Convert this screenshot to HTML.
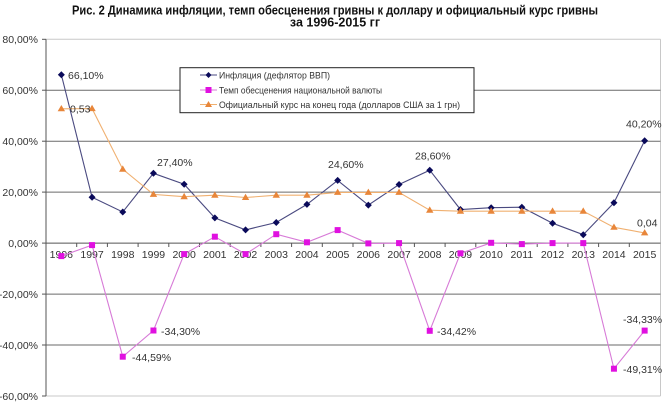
<!DOCTYPE html>
<html><head><meta charset="utf-8"><style>
html,body{margin:0;padding:0;background:#fff;}
svg{display:block;}
text{font-family:"Liberation Sans",Arial,sans-serif;}
</style></head><body>
<svg width="668" height="407" viewBox="0 0 668 407" xmlns="http://www.w3.org/2000/svg">
<rect width="668" height="407" fill="#fff"/>
<!-- title -->
<text x="335" y="14.5" font-size="12.5" font-weight="bold" text-anchor="middle" fill="#111" textLength="526" lengthAdjust="spacingAndGlyphs">Рис. 2 Динамика инфляции, темп обесценения гривны  к доллару и официальный курс гривны</text>
<text x="335" y="26.5" font-size="12.5" font-weight="bold" text-anchor="middle" fill="#111">за 1996-2015 гг</text>

<!-- plot borders -->
<line x1="46" y1="39.3" x2="660.5" y2="39.3" stroke="#c8c8c8" stroke-width="1"/>
<line x1="660.5" y1="39.3" x2="660.5" y2="396" stroke="#c8c8c8" stroke-width="1"/>
<line x1="46" y1="396" x2="660.5" y2="396" stroke="#c8c8c8" stroke-width="1"/>
<!-- gridlines -->
<g stroke="#6a6a6a" stroke-width="1">
<line x1="46" y1="90.2" x2="660.5" y2="90.2"/>
<line x1="46" y1="141.2" x2="660.5" y2="141.2"/>
<line x1="46" y1="192.1" x2="660.5" y2="192.1"/>
<line x1="46" y1="294.1" x2="660.5" y2="294.1"/>
<line x1="46" y1="345" x2="660.5" y2="345"/>
</g>
<!-- y axis -->
<line x1="46" y1="39.3" x2="46" y2="396" stroke="#555" stroke-width="1"/>
<g stroke="#555" stroke-width="1">
<line x1="42" y1="39.3" x2="46" y2="39.3"/>
<line x1="42" y1="90.2" x2="46" y2="90.2"/>
<line x1="42" y1="141.2" x2="46" y2="141.2"/>
<line x1="42" y1="192.1" x2="46" y2="192.1"/>
<line x1="42" y1="243.1" x2="46" y2="243.1"/>
<line x1="42" y1="294.1" x2="46" y2="294.1"/>
<line x1="42" y1="345" x2="46" y2="345"/>
<line x1="42" y1="396" x2="46" y2="396"/>
</g>
<g font-size="10.5" fill="#333" text-anchor="end">
<text x="38" y="43">80,00%</text>
<text x="38" y="94">60,00%</text>
<text x="38" y="145">40,00%</text>
<text x="38" y="196">20,00%</text>
<text x="38" y="247">0,00%</text>
<text x="38" y="298">-20,00%</text>
<text x="38" y="349">-40,00%</text>
<text x="38" y="400">-60,00%</text>
</g>
<!-- x axis -->
<line x1="46" y1="243.1" x2="660.5" y2="243.1" stroke="#555" stroke-width="1"/>
<g stroke="#555" stroke-width="1">
<line x1="76.7" y1="243" x2="76.7" y2="247"/><line x1="107.4" y1="243" x2="107.4" y2="247"/>
<line x1="138.1" y1="243" x2="138.1" y2="247"/><line x1="168.8" y1="243" x2="168.8" y2="247"/>
<line x1="199.5" y1="243" x2="199.5" y2="247"/><line x1="230.2" y1="243" x2="230.2" y2="247"/>
<line x1="260.9" y1="243" x2="260.9" y2="247"/><line x1="291.6" y1="243" x2="291.6" y2="247"/>
<line x1="322.3" y1="243" x2="322.3" y2="247"/><line x1="353" y1="243" x2="353" y2="247"/>
<line x1="383.7" y1="243" x2="383.7" y2="247"/><line x1="414.4" y1="243" x2="414.4" y2="247"/>
<line x1="445.1" y1="243" x2="445.1" y2="247"/><line x1="475.8" y1="243" x2="475.8" y2="247"/>
<line x1="506.5" y1="243" x2="506.5" y2="247"/><line x1="537.2" y1="243" x2="537.2" y2="247"/>
<line x1="567.9" y1="243" x2="567.9" y2="247"/><line x1="598.6" y1="243" x2="598.6" y2="247"/>
<line x1="629.3" y1="243" x2="629.3" y2="247"/>
</g>
<g font-size="10.5" fill="#333" text-anchor="middle">
<text x="61.35" y="258">1996</text><text x="92.05" y="258">1997</text><text x="122.75" y="258">1998</text>
<text x="153.45" y="258">1999</text><text x="184.15" y="258">2000</text><text x="214.85" y="258">2001</text>
<text x="245.55" y="258">2002</text><text x="276.25" y="258">2003</text><text x="306.95" y="258">2004</text>
<text x="337.65" y="258">2005</text><text x="368.35" y="258">2006</text><text x="399.05" y="258">2007</text>
<text x="429.75" y="258">2008</text><text x="460.45" y="258">2009</text><text x="491.15" y="258">2010</text>
<text x="521.85" y="258">2011</text><text x="552.55" y="258">2012</text><text x="583.25" y="258">2013</text>
<text x="613.95" y="258">2014</text><text x="644.65" y="258">2015</text>
</g>

<!-- inflation series -->
<polyline fill="none" stroke="#4a4a80" stroke-width="1.1" points="61.35,74.7 92.05,197.2 122.75,212 153.45,173.3 184.15,184.2 214.85,217.9 245.55,229.9 276.25,222.5 306.95,204.4 337.65,180.4 368.35,205.1 399.05,184.5 429.75,170.2 460.45,209.5 491.15,207.7 521.85,207.2 552.55,223.2 583.25,234.7 613.95,202.8 644.65,140.7"/>
<g fill="#0a0a5a">
<path d="M61.35,71.2l3.5,3.5-3.5,3.5-3.5-3.5z"/><path d="M92.05,193.7l3.5,3.5-3.5,3.5-3.5-3.5z"/>
<path d="M122.75,208.5l3.5,3.5-3.5,3.5-3.5-3.5z"/><path d="M153.45,169.8l3.5,3.5-3.5,3.5-3.5-3.5z"/>
<path d="M184.15,180.7l3.5,3.5-3.5,3.5-3.5-3.5z"/><path d="M214.85,214.4l3.5,3.5-3.5,3.5-3.5-3.5z"/>
<path d="M245.55,226.4l3.5,3.5-3.5,3.5-3.5-3.5z"/><path d="M276.25,219l3.5,3.5-3.5,3.5-3.5-3.5z"/>
<path d="M306.95,200.9l3.5,3.5-3.5,3.5-3.5-3.5z"/><path d="M337.65,176.9l3.5,3.5-3.5,3.5-3.5-3.5z"/>
<path d="M368.35,201.6l3.5,3.5-3.5,3.5-3.5-3.5z"/><path d="M399.05,181l3.5,3.5-3.5,3.5-3.5-3.5z"/>
<path d="M429.75,166.7l3.5,3.5-3.5,3.5-3.5-3.5z"/><path d="M460.45,206l3.5,3.5-3.5,3.5-3.5-3.5z"/>
<path d="M491.15,204.2l3.5,3.5-3.5,3.5-3.5-3.5z"/><path d="M521.85,203.7l3.5,3.5-3.5,3.5-3.5-3.5z"/>
<path d="M552.55,219.7l3.5,3.5-3.5,3.5-3.5-3.5z"/><path d="M583.25,231.2l3.5,3.5-3.5,3.5-3.5-3.5z"/>
<path d="M613.95,199.3l3.5,3.5-3.5,3.5-3.5-3.5z"/><path d="M644.65,137.2l3.5,3.5-3.5,3.5-3.5-3.5z"/>
</g>

<!-- magenta series -->
<polyline fill="none" stroke="#d77ad7" stroke-width="1.1" points="61.35,256.1 92.05,245.1 122.75,356.7 153.45,330.5 184.15,254.1 214.85,236.7 245.55,254.1 276.25,234.2 306.95,242.3 337.65,230.1 368.35,243.4 399.05,243.1 429.75,330.8 460.45,253.3 491.15,242.8 521.85,244.1 552.55,243.1 583.25,243.1 613.95,368.7 644.65,330.6"/>
<g fill="#e010e0">
<rect x="58.35" y="253.1" width="6" height="6"/><rect x="89.05" y="242.1" width="6" height="6"/>
<rect x="119.75" y="353.7" width="6" height="6"/><rect x="150.45" y="327.5" width="6" height="6"/>
<rect x="181.15" y="251.1" width="6" height="6"/><rect x="211.85" y="233.7" width="6" height="6"/>
<rect x="242.55" y="251.1" width="6" height="6"/><rect x="273.25" y="231.2" width="6" height="6"/>
<rect x="303.95" y="239.3" width="6" height="6"/><rect x="334.65" y="227.1" width="6" height="6"/>
<rect x="365.35" y="240.4" width="6" height="6"/><rect x="396.05" y="240.1" width="6" height="6"/>
<rect x="426.75" y="327.8" width="6" height="6"/><rect x="457.45" y="250.3" width="6" height="6"/>
<rect x="488.15" y="239.8" width="6" height="6"/><rect x="518.85" y="241.1" width="6" height="6"/>
<rect x="549.55" y="240.1" width="6" height="6"/><rect x="580.25" y="240.1" width="6" height="6"/>
<rect x="610.95" y="365.7" width="6" height="6"/><rect x="641.65" y="327.6" width="6" height="6"/>
</g>

<!-- orange series -->
<polyline fill="none" stroke="#f0b070" stroke-width="1.1" points="61.35,108.8 92.05,108.6 122.75,169.2 153.45,194.4 184.15,196.7 214.85,195.2 245.55,197.5 276.25,195.2 306.95,195.2 337.65,192.4 368.35,192.4 399.05,192.4 429.75,210.2 460.45,211.2 491.15,211.2 521.85,211.2 552.55,211.2 583.25,211.2 613.95,227.3 644.65,232.9"/>
<g fill="#e8863a">
<path d="M61.35,105l3.7,6.3h-7.4z"/><path d="M92.05,104.8l3.7,6.3h-7.4z"/>
<path d="M122.75,165.4l3.7,6.3h-7.4z"/><path d="M153.45,190.6l3.7,6.3h-7.4z"/>
<path d="M184.15,192.9l3.7,6.3h-7.4z"/><path d="M214.85,191.4l3.7,6.3h-7.4z"/>
<path d="M245.55,193.7l3.7,6.3h-7.4z"/><path d="M276.25,191.4l3.7,6.3h-7.4z"/>
<path d="M306.95,191.4l3.7,6.3h-7.4z"/><path d="M337.65,188.6l3.7,6.3h-7.4z"/>
<path d="M368.35,188.6l3.7,6.3h-7.4z"/><path d="M399.05,188.6l3.7,6.3h-7.4z"/>
<path d="M429.75,206.4l3.7,6.3h-7.4z"/><path d="M460.45,207.4l3.7,6.3h-7.4z"/>
<path d="M491.15,207.4l3.7,6.3h-7.4z"/><path d="M521.85,207.4l3.7,6.3h-7.4z"/>
<path d="M552.55,207.4l3.7,6.3h-7.4z"/><path d="M583.25,207.4l3.7,6.3h-7.4z"/>
<path d="M613.95,223.5l3.7,6.3h-7.4z"/><path d="M644.65,229.1l3.7,6.3h-7.4z"/>
</g>

<!-- data labels -->
<g font-size="10.5" fill="#333">
<text x="68" y="79">66,10%</text>
<text x="70" y="112.5">0,53</text>
<text x="157" y="166">27,40%</text>
<text x="328" y="168">24,60%</text>
<text x="415" y="159.5">28,60%</text>
<text x="626" y="127.3">40,20%</text>
<text x="637" y="226.5">0,04</text>
<text x="132" y="361">-44,59%</text>
<text x="161" y="335">-34,30%</text>
<text x="437" y="335">-34,42%</text>
<text x="623" y="323">-34,33%</text>
<text x="623" y="373">-49,31%</text>
</g>

<!-- legend -->
<rect x="180" y="67.7" width="294" height="45" fill="#fff" stroke="#222" stroke-width="1"/>
<line x1="200" y1="75" x2="217" y2="75" stroke="#4a4a80" stroke-width="1.1"/>
<path d="M208.5,72l3,3-3,3-3-3z" fill="#0a0a5a"/>
<line x1="200" y1="90" x2="217" y2="90" stroke="#d77ad7" stroke-width="1.1"/>
<rect x="205.5" y="87" width="6" height="6" fill="#e010e0"/>
<line x1="200" y1="104.5" x2="217" y2="104.5" stroke="#f0b070" stroke-width="1.1"/>
<path d="M208.5,101l3.5,6h-7z" fill="#e8863a"/>
<g font-size="9.5" fill="#333">
<text x="219" y="78.3" textLength="111" lengthAdjust="spacingAndGlyphs">Инфляция  (дефлятор ВВП)</text>
<text x="219" y="93.3" textLength="163" lengthAdjust="spacingAndGlyphs">Темп обесценения национальной  валюты</text>
<text x="219" y="107.8" textLength="241" lengthAdjust="spacingAndGlyphs">Официальный  курс на конец года (долларов США за 1 грн)</text>
</g>
</svg>
</body></html>
